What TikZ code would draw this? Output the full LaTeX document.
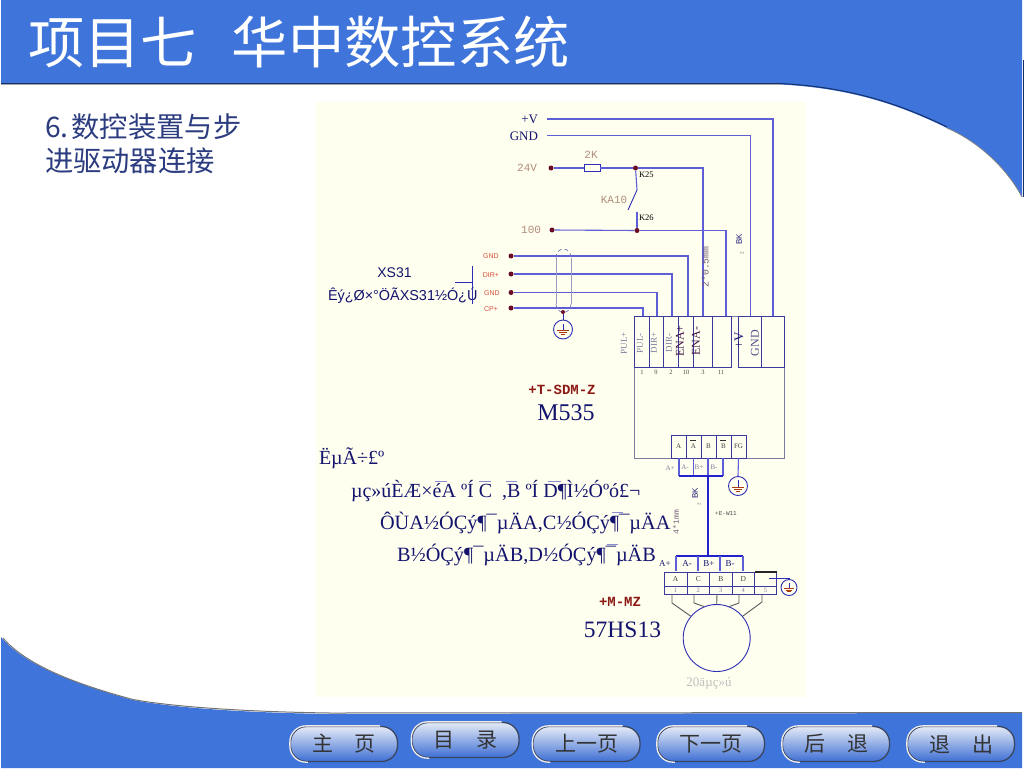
\documentclass[tikz,border=0pt]{standalone}
\usepackage{fontspec}
\usetikzlibrary{calc}
\setmainfont{Liberation Serif}
\setsansfont{Liberation Sans}
\setmonofont{Liberation Mono}
\newfontfamily\cjk{Noto Sans CJK SC}
\definecolor{hdrblue}{HTML}{3F75DB}
\definecolor{hdrdark}{HTML}{14306A}
\definecolor{creambg}{HTML}{FFFFF0}
\definecolor{wirec}{HTML}{5E5ED6}
\definecolor{wiredk}{HTML}{2E2EB4}
\definecolor{vivid}{HTML}{2222CC}
\definecolor{boxc}{HTML}{3A3A9C}
\definecolor{greybox}{HTML}{7C7CA0}
\definecolor{navy}{HTML}{14146E}
\definecolor{tancol}{HTML}{B08C7C}
\definecolor{redlab}{HTML}{D8503C}
\definecolor{dotc}{HTML}{6B0A24}
\definecolor{pale}{HTML}{9A9ABC}
\definecolor{subt}{HTML}{2C3C80}
\definecolor{brick}{HTML}{8C1A14}
\definecolor{btntop}{HTML}{E4EAF6}
\definecolor{btnmid}{HTML}{A9C0EE}
\definecolor{btnbot}{HTML}{3E6FD3}
\definecolor{btnring}{HTML}{3A4560}
\definecolor{barc}{HTML}{8C8CD0}
\tikzset{
  lbl/.style={inner sep=0pt,outer sep=0pt,text=navy},
  fs/.style={font=\fontsize{#1}{#1}\selectfont},
  wire/.style={draw=wirec,line width=1.1pt},
  thickwire/.style={draw=vivid,line width=2.2pt},
  thinwire/.style={draw=wiredk,line width=.9pt},
  dot/.style={circle,fill=dotc,inner sep=0pt,minimum size=5pt},
  cellb/.style={draw=boxc,line width=.9pt,inner sep=0pt,outer sep=0pt,anchor=north west},
  gndc/.style={circle,draw=wiredk,line width=.9pt,inner sep=0pt,minimum size=#1},
  btn/.style={rounded corners=16pt,draw=btnring,line width=1.3pt,top color=btntop,middle color=btnmid,bottom color=btnbot,
    minimum width=107pt,minimum height=35pt,inner sep=0pt,text=black!80,font=\cjk\fontsize{21}{21}\selectfont},
  btnlight/.style={draw=white!85!gray,line width=1.3pt,rounded corners=16pt},
  gndsym/.pic={
    \draw[draw=wiredk,line width=.7pt] (0,-6) -- (0,1);
    \draw[draw=brick!70!orange,line width=.7pt] (-6,1) -- (6,1) (-4,3) -- (4,3) (-2,5) -- (2,5);
  }
}
\newcommand\cellbox[5]{\node[cellb,minimum width={(#4-#2)*1pt},minimum height={(#5-#3)*1pt}] (#1) at (#2,#3) {};}
\begin{document}
\begin{tikzpicture}[x=1pt,y=-1pt]
\useasboundingbox (0,0) rectangle (1024,768);
\fill[white] (0,0) rectangle (1024,768);
% header
\fill[hdrblue] (1,0) -- (1022,0) -- (1022,197) .. controls (1005,165) and (975,140) .. (947,128)
  .. controls (900,105) and (850,88) .. (780,84.5) -- (1,84.5) -- cycle;
\draw[hdrdark,line width=1pt] (1,83.5) -- (780,83.5) .. controls (850,87) and (900,104) .. (947,127);
\draw[gray,line width=.8pt] (947,128) .. controls (975,140) and (1005,165) .. (1022,197);
\draw[gray!70,line width=1pt] (1,84.8) -- (780,84.8);
\draw[hdrdark,line width=1pt] (1023,60) -- (1023,197);
% footer
\fill[hdrblue] (1,637) .. controls (20,660) and (60,680) .. (133,700) .. controls (180,709) and (260,713) .. (330,714)
  -- (1022,713) -- (1022,768) -- (1,768) -- cycle;
\draw[black!55,line width=1pt] (3,638) .. controls (22,660) and (60,680) .. (133,699.5) .. controls (180,708) and (260,712) .. (330,713) -- (1022,712.5);
% cream panel
\fill[creambg] (316,102) rectangle (806,697);
% titles
\node[lbl,text=white,anchor=west,font=\cjk\fontsize{56.3}{56.3}\selectfont] (title) at (28,42) {项目七\hspace{35pt}华中数控系统};
\node[lbl,text=subt,anchor=west,font=\cjk\fontsize{28.3}{28.3}\selectfont] (sub1) at (45,127) {6.\hspace{3pt}数控装置与步};
\node[lbl,text=subt,anchor=west,font=\cjk\fontsize{28.3}{28.3}\selectfont] (sub2) at (45,161) {进驱动器连接};
% upper labels
\node[lbl,fs=13,anchor=east] (lv) at (538,119) {+V};
\node[lbl,fs=13,anchor=east] (lg) at (538,136) {GND};
\node[lbl,text=tancol,anchor=east,font=\ttfamily\fontsize{11}{11}\selectfont] (l24) at (537,168) {24V};
\node[lbl,text=tancol,anchor=east,font=\ttfamily\fontsize{11}{11}\selectfont] (l100) at (541,230) {100};
\node[lbl,text=tancol,font=\ttfamily\fontsize{11}{11}\selectfont] (l2k) at (591,155) {2K};
\node[lbl,text=tancol,font=\ttfamily\fontsize{11}{11}\selectfont] (lka) at (614,200) {KA10};
\node[lbl,text=black,fs=8.5,anchor=west] (lk25) at (639,175) {K25};
\node[lbl,text=black,fs=8.5,anchor=west] (lk26) at (639,218) {K26};
% signal labels
\node[lbl,text=redlab,font=\sffamily\fontsize{7}{7}\selectfont] (sg1) at (491,256) {GND};
\node[lbl,text=redlab,font=\sffamily\fontsize{7}{7}\selectfont] (sg2) at (491,275) {DIR+};
\node[lbl,text=redlab,font=\sffamily\fontsize{7}{7}\selectfont] (sg3) at (492,293) {GND};
\node[lbl,text=redlab,font=\sffamily\fontsize{7}{7}\selectfont] (sg4) at (491,309) {CP+};
\node[lbl,font=\sffamily\fontsize{14}{14}\selectfont] (xs) at (394.5,273) {XS31};
\node[lbl,anchor=west,font=\sffamily\fontsize{14.4}{14.4}\selectfont] (xsm) at (328,296) {Êý¿Ø×°ÖÃXS31½Ó¿Ú};
\coordinate (xa) at (455,282.7); \coordinate (xb) at (472,282.7); \coordinate (xc) at (472,266); \coordinate (xd) at (472,304);
\draw[thinwire] (xa) -- (xb) (xc) -- (xd);
% dots
\node[dot] (d24) at (551,168) {};
\node[dot] (d100) at (552,230) {};
\node[dot] (dk25) at (635.5,168) {};
\node[dot] (dk26) at (637,230.5) {};
\node[dot] (s1) at (511,256) {};
\node[dot] (s2) at (511,274) {};
\node[dot] (s3) at (511,292.5) {};
\node[dot] (s4) at (511,308) {};
% drive box
\node[cellb,draw=greybox,minimum width=150pt,minimum height=142pt] (drive) at (634.5,316) {};
\coordinate (vs) at (547,119); \coordinate (gs) at (547,135.5);
\coordinate (t1) at (643,316); \coordinate (t2) at (657,316); \coordinate (t3) at (672,316); \coordinate (t4) at (688,316);
\coordinate (t5) at (703,316); \coordinate (t6) at (726,316); \coordinate (t7) at (750.5,316); \coordinate (t8) at (773,316);
% strip
\foreach \n/\a/\b in {c1/634.5/649,c2/649/663,c3/663/678,c4/678/693,c5/693/712.5,c6/712.5/731,c7/738/761,c8/761/784}{
  \cellbox{\n}{\a}{316}{\b}{367.5}
}
% wires
\draw[wire] (vs) -- (vs -| t8) -- (t8);
\draw[wire] (gs) -- (gs -| t7) -- (t7);
\node[draw=wiredk,fill=creambg,line width=.8pt,minimum width=16pt,minimum height=6.5pt,inner sep=0pt] (res) at (592,168) {};
\draw[wire] (d24) -- (res);
\draw[wire] (res) -- (dk25);
\draw[wire] (dk25) -- (dk25 -| t5) -- (t5);
\draw[wire] (d100) -- (dk26);
\draw[wire] (dk26) -- (dk26 -| t6) -- (t6);
\coordinate (k1) at (637,190); \coordinate (k2) at (628,210); \coordinate (k3) at (637,211.5);
\draw[wire] (dk25) -- (k1);
\draw[thinwire] (k1) -- (k2);
\draw[wire] (k3) -- (dk26);
\draw[wire] (s1) -- (s1 -| t4) -- (t4);
\draw[wire] (s2) -- (s2 -| t3) -- (t3);
\draw[wire] (s3) -- (s3 -| t2) -- (t2);
\draw[wire] (s4) -- (s4 -| t1) -- (t1);
% shield
\coordinate (sha) at (556,258); \coordinate (shb) at (571,258); \coordinate (shc) at (556,304); \coordinate (shd) at (571,304);
\draw[pale,line width=.8pt] (sha) -- (shc) (shb) -- (shd);
\draw[boxc!70,line width=.7pt,dash pattern=on 4pt off 3pt] (sha) .. controls (556,246) and (571,246) .. (shb);
\draw[boxc!70,line width=.7pt,dash pattern=on 4pt off 3pt] (shc) .. controls (556,315) and (571,315) .. (shd);
\node[dot,minimum size=4pt] (shdot) at (563,312) {};
\node[gndc=19pt] (g1) at (563,329.5) {};
\draw[thinwire] (shdot) -- (g1.north);
\path (g1) pic {gndsym};
% drive labels
\foreach \n/\x/\t in {p1/624/PUL+,p2/640/PUL-,p3/654/DIR+,p4/669/DIR-}{
  \node[lbl,text=greybox,rotate=90,fs=9] (\n) at (\x,343) {\t};
}
\node[lbl,rotate=90,fs=12,text=brick!40!navy] (p5) at (680,341) {ENA+};
\node[lbl,rotate=90,fs=12,text=brick!40!navy] (p6) at (696,341) {ENA-};
\node[lbl,rotate=90,fs=13] (p7) at (739,340) {+V};
\node[lbl,rotate=90,fs=12,text=greybox!60!navy] (p8) at (755,343) {GND};
\foreach \n/\x/\t in {n1/642/1,n2/656/9,n3/671/2,n4/686/10,n5/703/3,n6/721/11}{
  \node[lbl,fs=6.5,text=black!70] (\n) at (\x,372.5) {\t};
}
\node[lbl,text=tancol!60!navy,rotate=90,font=\ttfamily\fontsize{9.8}{9.8}\selectfont] (w05) at (705,267) {2*0.5mm};
\node[lbl,rotate=90,font=\sffamily\fontsize{8}{8}\selectfont] (bk1) at (739,239) {BK};
\node[lbl,rotate=90,fs=5,text=black!60] (bk1n) at (742,253) {2};
\node[lbl,text=brick,font=\ttfamily\bfseries\fontsize{14}{14}\selectfont] (tsdm) at (562,390) {+T-SDM-Z};
\node[lbl,fs=24] (m535) at (566,413) {M535};
% drive terminal
\foreach \n/\a/\b/\t in {u1/671.5/686/A,u2/686/701/A,u3/701/716/B,u4/716/731/B,u5/731/746/FG}{
  \cellbox{\n}{\a}{435.5}{\b}{458}
  \node[lbl,fs=7,text=black!75] (\n l) at ($(\a,446)!.5!(\b,446)$) {\t};
}
\draw[black!80,line width=.8pt] (690,440) -- (696,440) (720,440) -- (726,440);
% lower terminals of drive
\coordinate (ua) at (679,458); \coordinate (ub) at (693.5,458); \coordinate (uc) at (708,458); \coordinate (ud) at (723,458);
\coordinate (ba) at (679,476); \coordinate (bb) at (693.5,476); \coordinate (bc) at (708,476); \coordinate (bd) at (723,476);
\draw[wire] (ua) -- (ba) (ub) -- (bb) (uc) -- (bc) (ud) -- (bd);
\draw[thickwire] (ba) -- (bd);
\node[lbl,fs=7,text=greybox] (la1) at (670,468) {A+};
\node[lbl,fs=7,text=greybox] (la2) at (685,467) {A-};
\node[lbl,fs=7,text=greybox] (la3) at (699,467) {B+};
\node[lbl,fs=7,text=greybox] (la4) at (714,467) {B-};
\node[gndc=19pt] (g2) at (738,486) {};
\draw[wire] (u5.south) -- (g2.north);
\path (g2) pic {gndsym};
% cable
\coordinate (ma) at (676,556); \coordinate (mb) at (698,556); \coordinate (mc) at (708,556); \coordinate (md) at (720,556); \coordinate (me) at (743,556);
\draw[draw=vivid,line width=2.6pt] (bc) -- (mc);
\draw[thickwire] (ma) -- (me);
\node[lbl,rotate=90,font=\sffamily\fontsize{8}{8}\selectfont] (bk2) at (695,493) {BK};
\node[lbl,rotate=90,fs=5,text=black!60] (bk2n) at (699,504) {2};
\node[lbl,text=black!70,font=\ttfamily\fontsize{6}{6}\selectfont] (ew) at (726,514) {+E-W11};
\node[lbl,text=tancol!60!navy,rotate=90,font=\ttfamily\fontsize{8}{8}\selectfont] (w41) at (676,522) {4*1mm};
% motor terminal
\foreach \n/\a/\b/\t/\m in {v1/664/687/A/1,v2/687/709.5/C/2,v3/709.5/732/B/3,v4/732/754.5/D/4,v5/754.5/776.5//5}{
  \cellbox{\n}{\a}{572}{\b}{594}
  \node[lbl,fs=7.5,text=black!75] (\n l) at ($(\a,579)!.5!(\b,579)$) {\t};
  \node[lbl,fs=6.5,text=greybox] (\n m) at ($(\a,590)!.5!(\b,590)$) {\m};
}
\coordinate (ra) at (664,586); \coordinate (rb) at (776.5,586);
\draw[boxc,line width=.8pt] (ra) -- (rb);
\draw[black!85,line width=1.1pt] (v5.north west) -- (v5.north east);
\coordinate (mau) at (676,571); \coordinate (mbu) at (698,571); \coordinate (mdu) at (720,571); \coordinate (meu) at (743,571);
\draw[wire] (ma) -- (mau) (mb) -- (mbu) (md) -- (mdu) (me) -- (meu);
\node[lbl,fs=9] (lm1) at (665,564) {A+};
\node[lbl,fs=9] (lm2) at (687,564) {A-};
\node[lbl,fs=9] (lm3) at (709,564) {B+};
\node[lbl,fs=9] (lm4) at (730,564) {B-};
\node[gndc=16pt] (g3) at (789,587.5) {};
\coordinate (g3s) at (769,578);
\draw[thinwire] (g3s) -- (g3s -| g3) -- (g3.north);
\path (g3) pic[scale=.8] {gndsym};
% motor
\node[circle,draw=wiredk,line width=.9pt,minimum size=67pt,inner sep=0pt] (motor) at (716.7,638) {};
\coordinate (mw1) at (672,603); \coordinate (mw2) at (694,603); \coordinate (mw4) at (739,603); \coordinate (mw5) at (762,602);
\coordinate (mt1) at (672,594); \coordinate (mt2) at (694,594); \coordinate (mt3) at (717,594); \coordinate (mt4) at (739,594); \coordinate (mt5) at (762,594);
\draw[draw=black!65,line width=.9pt] (mt1) -- (mw1) -- (motor.140);
\draw[draw=black!65,line width=.9pt] (mt2) -- (mw2) -- (motor.112);
\draw[draw=black!65,line width=.9pt] (mt3) -- (motor.north);
\draw[draw=black!65,line width=.9pt] (mt4) -- (mw4) -- (motor.68);
\draw[draw=black!65,line width=.9pt] (mt5) -- (mw5) -- (motor.40);
\node[lbl,text=brick,font=\ttfamily\bfseries\fontsize{14}{14}\selectfont] (mmz) at (620,602) {+M-MZ};
\node[lbl,fs=23.5] (hs) at (622.5,630) {57HS13};
\node[lbl,fs=13,text=black!25] (ty) at (709,683) {20äµç»ú};
% note
\node[lbl,fs=20,anchor=west] (n0) at (319,458) {ËµÃ÷£º};
\node[lbl,fs=20,anchor=west] (n1) at (351,491) {µç»úÈÆ×éA ºÍ C\ \ ,B ºÍ D¶Ì½Óºó£¬};
\node[lbl,fs=20.3,anchor=west] (n2) at (380,523) {ÔÙA½ÓÇý¶¯µÄA,C½ÓÇý¶¯µÄA};
\node[lbl,fs=20.3,anchor=west] (n3) at (397,555) {B½ÓÇý¶¯µÄB,D½ÓÇý¶¯µÄB};
\draw[barc,line width=1pt] (435,481) -- (447,481) (479,481) -- (491,481) (506,481) -- (517,481) (548,481) -- (561,481) (612,512) -- (623,512) (607,544) -- (618,544);
% buttons
\node[btn] (b1) at (344,744) {主\hspace{22pt}页};
\node[btn] (b2) at (465.5,740) {目\hspace{22pt}录};
\node[btn] (b3) at (586.5,744) {上一页};
\node[btn] (b4) at (711,744) {下一页};
\node[btn] (b5) at (836,744) {后\hspace{22pt}退};
\node[btn] (b6) at (961,744) {退\hspace{22pt}出};
\foreach \b in {b1,b2,b3,b4,b5,b6}{
  \draw[btnlight] ($(\b.south west)+(18,0)$) -- (\b.south west) -- (\b.north west) -- ($(\b.north east)+(-18,0)$);
}
\end{tikzpicture}
\end{document}
